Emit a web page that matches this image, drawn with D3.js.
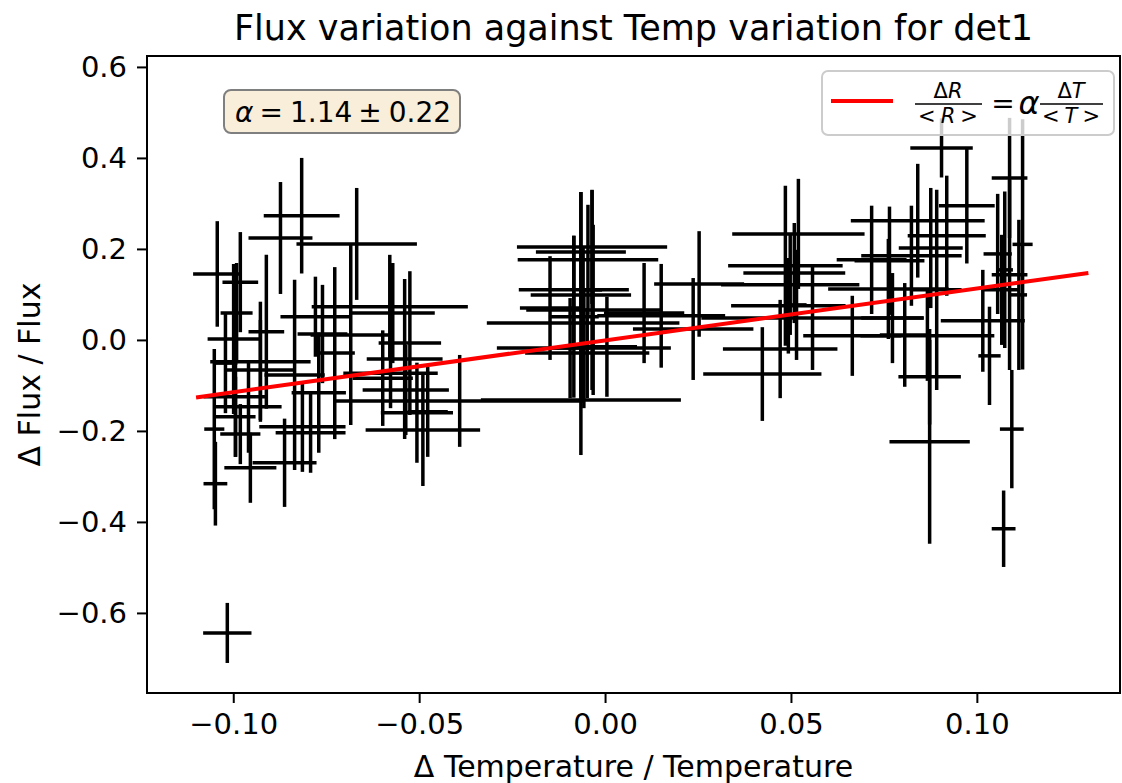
<!DOCTYPE html>
<html>
<head>
<meta charset="utf-8">
<script src="https://cdn.jsdelivr.net/npm/d3@7"></script>
<style>
body{margin:0;background:#fff;}
svg{font-family:"DejaVu Sans",sans-serif;}
</style>
</head>
<body>
<svg id="chart" width="1122" height="783"></svg>
<script>
// data: relative temperature change vs relative flux change, with errors
var tempVar = [-0.1016,-0.1048,-0.0816,-0.0873,-0.0668,-0.1043,-0.0981,-0.0911,-0.0999,-0.0991,
	-0.0927,-0.0927,-0.0994,-0.0959,-0.0994,-0.0981,-0.0862,-0.0954,-0.1051,-0.0835,
	-0.0760,-0.0727,-0.0792,-0.0770,-0.0814,-0.0779,-0.1021,-0.0579,-0.0571,-0.0539,
	-0.0525,-0.0577,-0.0598,-0.0536,-0.0506,-0.0490,-0.0477,-0.0391,-0.0684,-0.0035,
	-0.0065,-0.0046,-0.0065,-0.0084,-0.0032,-0.0059,-0.0057,-0.0048,-0.0148,0.0005,
	0.0105,0.0151,0.0237,0.0253,-0.0065,-0.0094,-0.0084,-0.0035,0.0520,0.0485,
	0.0509,0.0498,0.0493,0.0471,0.0423,0.0558,0.0515,0.0665,0.0717,0.0905,
	0.0973,0.0841,0.0919,0.0876,0.0824,0.0765,0.0892,0.0806,0.0873,0.0873,
	0.1016,0.0867,0.0773,0.0762,0.1088,0.1056,0.1088,0.1123,0.1113,0.1034,
	0.1094,0.1072,0.1067,0.1075];
var fluxVar = [-0.644,-0.316,0.273,0.224,0.211,0.145,0.127,0.018,0.002,0.059,
	-0.048,-0.066,-0.125,-0.147,-0.169,-0.207,-0.270,-0.281,-0.196,-0.077,
	0.013,-0.029,-0.204,-0.116,-0.191,0.051,-0.051,0.073,0.059,-0.042,
	-0.007,-0.073,-0.084,-0.110,-0.160,-0.198,-0.158,-0.134,0.011,0.204,
	0.193,0.176,0.099,0.110,0.066,0.037,-0.018,-0.029,0.070,-0.015,
	0.059,0.053,0.024,0.123,-0.132,-0.018,0.051,0.110,0.233,0.163,
	0.147,0.121,0.075,-0.020,-0.075,0.048,0.077,0.009,0.176,0.422,
	0.295,0.262,0.229,0.202,0.185,0.174,0.110,0.011,-0.081,-0.224,
	0.042,0.009,0.048,0.112,0.356,0.189,0.143,0.210,0.099,-0.035,
	-0.196,-0.415,0.110,0.154];
var tempErr = [0.0065,0.0032,0.0102,0.0086,0.0162,0.0065,0.0048,0.0048,0.0070,0.0043,
	0.0135,0.0094,0.0086,0.0089,0.0054,0.0054,0.0086,0.0070,0.0027,0.0081,
	0.0067,0.0054,0.0094,0.0073,0.0116,0.0094,0.0032,0.0210,0.0113,0.0102,
	0.0084,0.0127,0.0081,0.0116,0.0097,0.0154,0.0054,0.0334,0.0108,0.0202,
	0.0121,0.0189,0.0135,0.0148,0.0180,0.0259,0.0234,0.0167,0.0081,0.0081,
	0.0108,0.0172,0.0162,0.0121,0.0269,0.0054,0.0067,0.0027,0.0178,0.0154,
	0.0137,0.0186,0.0154,0.0154,0.0159,0.0299,0.0027,0.0132,0.0094,0.0084,
	0.0075,0.0180,0.0105,0.0086,0.0135,0.0094,0.0067,0.0067,0.0084,0.0108,
	0.0113,0.0180,0.0084,0.0162,0.0048,0.0038,0.0048,0.0027,0.0022,0.0030,
	0.0032,0.0032,0.0048,0.0022];
var fluxErr = [0.066,0.092,0.127,0.123,0.123,0.116,0.110,0.169,0.165,0.110,
	0.132,0.110,0.132,0.101,0.088,0.066,0.097,0.077,0.176,0.209,
	0.108,0.189,0.088,0.132,0.099,0.088,0.110,0.114,0.110,0.176,
	0.158,0.077,0.105,0.099,0.110,0.123,0.099,0.101,0.198,0.125,
	0.132,0.121,0.226,0.119,0.187,0.165,0.132,0.099,0.114,0.110,
	0.110,0.114,0.112,0.116,0.121,0.110,0.178,0.220,0.121,0.176,
	0.110,0.110,0.105,0.108,0.103,0.114,0.121,0.088,0.119,0.065,
	0.127,0.125,0.132,0.132,0.110,0.119,0.220,0.114,0.105,0.224,
	0.112,0.099,0.099,0.110,0.132,0.132,0.209,0.275,0.165,0.108,
	0.130,0.084,0.121,0.172];

var xTicks = [-0.10,-0.05,0.00,0.05,0.10];
var yTicks = [-0.6,-0.4,-0.2,0.0,0.2,0.4,0.6];
var fitX = [-0.11,0.13];
var alphaVal = 1.14, alphaErr = 0.22, fitIntercept = -0.001;

var svg = d3.select("#chart");
var plot = {left:147, right:1120, top:56, bottom:693};

var x = d3.scaleLinear().domain([-0.1232,0.1385]).range([plot.left,plot.right]);
var y = d3.scaleLinear().domain([-0.776,0.624]).range([plot.bottom,plot.top]);

svg.append("rect").attr("width",1122).attr("height",783).attr("fill","white");

// error bars
var pts = tempVar.map(function(d,i){return {x:d,y:fluxVar[i],xe:tempErr[i],ye:fluxErr[i]};});
var bars = svg.append("g").attr("id","bars");
bars.selectAll(".hbar").data(pts).enter().append("line")
	.attr("class","hbar")
	.attr("x1",function(d){return x(d.x-d.xe);})
	.attr("x2",function(d){return x(d.x+d.xe);})
	.attr("y1",function(d){return y(d.y);})
	.attr("y2",function(d){return y(d.y);})
	.attr("stroke","black").attr("stroke-width",3.5);
bars.selectAll(".vbar").data(pts).enter().append("line")
	.attr("class","vbar")
	.attr("x1",function(d){return x(d.x);})
	.attr("x2",function(d){return x(d.x);})
	.attr("y1",function(d){return y(d.y-d.ye);})
	.attr("y2",function(d){return y(d.y+d.ye);})
	.attr("stroke","black").attr("stroke-width",3.5);

// fit line
svg.append("path")
	.datum(fitX)
	.attr("d",d3.line().x(function(d){return x(d);}).y(function(d){return y(alphaVal*d+fitIntercept);}))
	.attr("stroke","red").attr("stroke-width",4).attr("fill","none");

// axes
var xAxis = d3.axisBottom(x).tickValues(xTicks).tickSize(10).tickPadding(10).tickFormat(d3.format(".2f"));
var yAxis = d3.axisLeft(y).tickValues(yTicks).tickSize(10).tickPadding(10).tickFormat(d3.format(".1f"));

var gx = svg.append("g").attr("transform","translate(0,"+plot.bottom+")").call(xAxis);
var gy = svg.append("g").attr("transform","translate("+plot.left+",0)").call(yAxis);
[gx,gy].forEach(function(g){
	g.select(".domain").remove();
	g.selectAll(".tick line").attr("stroke","black").attr("stroke-width",2);
	g.selectAll("text").attr("font-family","DejaVu Sans").attr("font-size",29).attr("fill","black");
});

svg.append("rect")
	.attr("x",plot.left).attr("y",plot.top)
	.attr("width",plot.right-plot.left).attr("height",plot.bottom-plot.top)
	.attr("fill","none").attr("stroke","black").attr("stroke-width",2);

// labels
svg.append("text").attr("x",(plot.left+plot.right)/2).attr("y",40)
	.attr("text-anchor","middle").attr("font-size",35)
	.text("Flux variation against Temp variation for det1");
svg.append("text").attr("x",(plot.left+plot.right)/2).attr("y",777)
	.attr("text-anchor","middle").attr("font-size",30)
	.text("\u0394 Temperature / Temperature");
svg.append("text").attr("transform","translate(40,"+((plot.top+plot.bottom)/2)+") rotate(-90)")
	.attr("text-anchor","middle").attr("font-size",30)
	.text("\u0394 Flux / Flux");

// alpha annotation box
svg.append("rect").attr("x",224).attr("y",90).attr("width",236).attr("height",43)
	.attr("rx",7).attr("fill","#f9eed9").attr("stroke","#7f7f7f").attr("stroke-width",2);
var at = svg.append("text").attr("x",235).attr("y",122).attr("font-size",28);
at.append("tspan").attr("font-style","italic").text("\u03b1");
at.append("tspan").attr("dx",6).text("=");
at.append("tspan").attr("dx",7).text(alphaVal.toFixed(2));
at.append("tspan").attr("dx",6).text("\u00b1");
at.append("tspan").attr("dx",7).text(alphaErr.toFixed(2));

// legend
var lg = svg.append("g");
lg.append("rect").attr("x",822).attr("y",71).attr("width",292).attr("height",64)
	.attr("rx",6).attr("fill","white").attr("fill-opacity",0.8)
	.attr("stroke","#cccccc").attr("stroke-width",2);
lg.append("line").attr("x1",831).attr("x2",893).attr("y1",101).attr("y2",101)
	.attr("stroke","red").attr("stroke-width",4);

function fraction(cx,x1,x2,num,den){
	lg.append("line").attr("x1",x1).attr("x2",x2).attr("y1",104).attr("y2",104)
		.attr("stroke","black").attr("stroke-width",1.5);
	var n = lg.append("text").attr("x",cx).attr("y",98).attr("text-anchor","middle").attr("font-size",21);
	n.append("tspan").text("\u0394");
	n.append("tspan").attr("font-style","italic").text(num);
	var dn = lg.append("text").attr("x",cx).attr("y",123).attr("text-anchor","middle").attr("font-size",21);
	dn.append("tspan").text("<");
	dn.append("tspan").attr("dx",5).attr("font-style","italic").text(den);
	dn.append("tspan").attr("dx",5).text(">");
}
fraction(948,915,982,"R","R");
lg.append("text").attr("x",1003).attr("y",113).attr("text-anchor","middle").attr("font-size",28).text("=");
lg.append("text").attr("x",1029).attr("y",114).attr("text-anchor","middle").attr("font-size",32)
	.attr("font-style","italic").text("\u03b1");
fraction(1071,1040,1103,"T","T");
</script>
</body>
</html>
